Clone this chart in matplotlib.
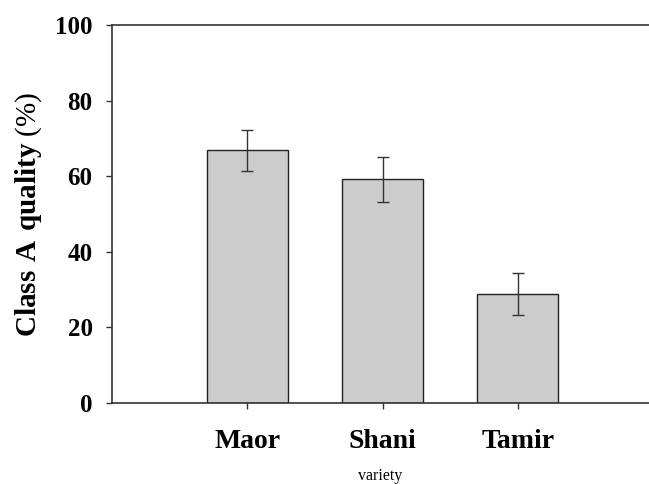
import matplotlib
matplotlib.use("Agg")
import matplotlib.pyplot as plt

categories = ["Maor", "Shani", "Tamir"]
values = [66.9, 59.2, 28.8]
errors = [5.4, 5.9, 5.5]
yticks = [0, 20, 40, 60, 80, 100]

plt.rcParams['font.family'] = ['Liberation Serif', 'DejaVu Serif']
plt.rcParams['mathtext.fontset'] = 'custom'
plt.rcParams['mathtext.rm'] = 'Liberation Serif'
plt.rcParams['mathtext.bf'] = 'Liberation Serif:bold'

fig = plt.figure(figsize=(6.49, 4.84), dpi=100)
ax = fig.add_axes([112/649, 1 - 403/484, 1 - 112/649, (403 - 25)/484])

pos = [1, 2, 3]
ax.bar(pos, values, width=0.6, color="#cccccc", edgecolor="#222222", linewidth=1.0, zorder=2)
ax.errorbar(pos, values, yerr=errors, fmt="none", ecolor="#333333", elinewidth=1.0,
            capsize=4, capthick=1.0, zorder=3)

ax.set_xlim(0, 3.97)
ax.set_ylim(0, 100)
ax.set_yticks(yticks)
ax.set_yticklabels([str(t) for t in yticks], fontsize=18, fontweight="bold")
ax.set_xticks(pos)
ax.set_xticklabels(categories, fontsize=20, fontweight="bold")
ax.tick_params(axis="both", direction="out", length=4, width=1, color="#333333")
ax.tick_params(axis="y", pad=10)
ax.tick_params(axis="x", pad=15)

for s in ["left", "bottom", "top"]:
    ax.spines[s].set_color("#333333")
    ax.spines[s].set_linewidth(1.2)
ax.spines["right"].set_visible(False)

ax.set_ylabel(r"$\mathbf{Class\ A\ quality}$ (%)", fontsize=21, labelpad=8)
ax.set_xlabel("variety", fontsize=11.5, labelpad=10)

fig.savefig("out.png", dpi=100)
